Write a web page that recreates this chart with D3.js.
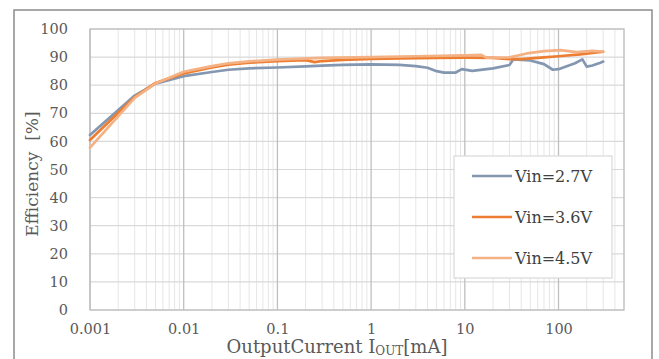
<!DOCTYPE html>
<html>
<head>
<meta charset="utf-8">
<script src="https://cdn.jsdelivr.net/npm/d3@7"></script>
<style>
  body { margin: 0; background: #fff; }
  svg text { font-family: "DejaVu Serif", "Liberation Serif", serif; }
</style>
</head>
<body>
<div id="chart"></div>
<script>
// data
const seriesNames = ["Vin=2.7V", "Vin=3.6V", "Vin=4.5V"];
const seriesColors = ["#8497b0", "#ed7d31", "#f4b183"];

const current27 = [0.001, 0.003, 0.005, 0.01, 0.02, 0.03, 0.05, 0.1, 0.2, 0.3, 0.5, 1, 2, 3, 4, 5, 6, 8, 9.3, 12, 20, 30, 33, 50, 70, 87, 100, 150, 180, 200, 230, 280, 300];
const eff27 = [62.3, 76.3, 80.5, 83.2, 84.7, 85.5, 86.0, 86.3, 86.7, 87.0, 87.2, 87.4, 87.2, 86.8, 86.2, 85.0, 84.5, 84.5, 85.7, 85.1, 86.0, 87.2, 89.2, 88.8, 87.5, 85.5, 85.7, 87.8, 89.2, 86.6, 87.0, 88.0, 88.4];

const current36 = [0.001, 0.003, 0.005, 0.01, 0.02, 0.03, 0.05, 0.1, 0.2, 0.25, 0.3, 0.5, 1, 2, 5, 10, 20, 30, 40, 70, 100, 170, 300];
const eff36 = [60.5, 75.8, 80.8, 84.2, 86.3, 87.3, 88.0, 88.6, 88.9, 88.2, 88.6, 89.0, 89.4, 89.5, 89.7, 89.8, 89.7, 89.3, 89.3, 89.9, 90.3, 91.0, 91.9];

const current45 = [0.001, 0.003, 0.005, 0.01, 0.02, 0.03, 0.05, 0.1, 0.3, 1, 3, 10, 15, 17, 30, 46, 70, 105, 157, 230, 300];
const eff45 = [57.8, 75.5, 80.6, 84.8, 86.8, 87.8, 88.5, 89.1, 89.7, 90.0, 90.3, 90.6, 90.8, 89.8, 89.9, 91.3, 92.1, 92.5, 91.8, 92.2, 92.0];

const xTicks = [0.001, 0.01, 0.1, 1, 10, 100];
const xTickLabels = ["0.001", "0.01", "0.1", "1", "10", "100"];
const yTicks = [0, 10, 20, 30, 40, 50, 60, 70, 80, 90, 100];

const width = 659, height = 359;
const margin = {top: 29, right: 35, bottom: 49, left: 90};
const innerW = width - margin.left - margin.right;
const innerH = height - margin.top - margin.bottom;

const svg = d3.select("#chart").append("svg")
  .attr("width", width)
  .attr("height", height);

// outer chart frame
svg.append("rect")
  .attr("x", 14).attr("y", 10)
  .attr("width", 638).attr("height", 370)
  .attr("fill", "none")
  .attr("stroke", "#8c8c8c")
  .attr("stroke-width", 1.5);

const g = svg.append("g")
  .attr("transform", "translate(" + margin.left + "," + margin.top + ")");

// SCALES
const x = d3.scaleLog().domain([0.001, 500]).range([0, innerW]);
const y = d3.scaleLinear().domain([0, 100]).range([innerH, 0]);

// minor grid
let minor = [];
xTicks.forEach(d => {
  for (let k = 2; k <= 9; k++) {
    if (d * k <= 500) minor.push(d * k);
  }
});
g.append("g").selectAll("line").data(minor).enter().append("line")
  .attr("x1", d => x(d)).attr("x2", d => x(d))
  .attr("y1", 0).attr("y2", innerH)
  .attr("stroke", "#e6e6e6").attr("stroke-width", 1);

// horizontal grid
g.append("g").selectAll("line").data(yTicks).enter().append("line")
  .attr("x1", 0).attr("x2", innerW)
  .attr("y1", d => y(d)).attr("y2", d => y(d))
  .attr("stroke", "#d9d9d9").attr("stroke-width", 1.2);

// major grid
g.append("g").selectAll("line").data(xTicks).enter().append("line")
  .attr("x1", d => x(d)).attr("x2", d => x(d))
  .attr("y1", 0).attr("y2", innerH)
  .attr("stroke", "#bfbfbf").attr("stroke-width", 1.3);

g.append("rect")
  .attr("width", innerW).attr("height", innerH)
  .attr("fill", "none").attr("stroke", "#bfbfbf").attr("stroke-width", 1.3);

// AXES (labels only, Excel style)
const xAxis = d3.axisBottom(x).tickValues(xTicks)
  .tickFormat((d, i) => xTickLabels[i]).tickSize(0).tickPadding(14);
const xg = g.append("g")
  .attr("transform", "translate(0," + innerH + ")")
  .call(xAxis);
xg.select(".domain").remove();
xg.selectAll("text").attr("fill", "#595959").style("font-size", "14.5px")
  .style("font-family", "DejaVu Serif");

const yAxis = d3.axisLeft(y).tickValues(yTicks).tickSize(0).tickPadding(22);
const yg = g.append("g").call(yAxis);
yg.select(".domain").remove();
yg.selectAll("text").attr("fill", "#595959").style("font-size", "14.5px")
  .style("font-family", "DejaVu Serif");

// LINES
const series = [
  {name: seriesNames[0], color: seriesColors[0], xs: current27, ys: eff27},
  {name: seriesNames[1], color: seriesColors[1], xs: current36, ys: eff36},
  {name: seriesNames[2], color: seriesColors[2], xs: current45, ys: eff45}
];

const line = d3.line()
  .x(d => x(d[0]))
  .y(d => y(d[1]));

series.forEach(s => {
  g.append("path")
    .datum(d3.zip(s.xs, s.ys))
    .attr("fill", "none")
    .attr("stroke", s.color)
    .attr("stroke-width", 2.7)
    .attr("stroke-linejoin", "round")
    .attr("stroke-linecap", "round")
    .attr("d", line);
});

// LEGEND
const legend = svg.append("g").attr("transform", "translate(454,156)");
legend.append("rect")
  .attr("width", 158).attr("height", 122)
  .attr("fill", "#fff").attr("stroke", "#d9d9d9").attr("stroke-width", 1.2);

const items = legend.selectAll(".item").data(series).enter().append("g")
  .attr("class", "item")
  .attr("transform", (d, i) => "translate(0," + (20 + i * 41) + ")");
items.append("line")
  .attr("x1", 18).attr("x2", 58)
  .attr("stroke", d => d.color).attr("stroke-width", 2.7);
items.append("text")
  .attr("x", 61).attr("dy", "0.36em")
  .attr("fill", "#404040")
  .style("font-size", "16px")
  .text(d => d.name);

// TITLES
svg.append("text")
  .attr("transform", "translate(38,174) rotate(-90)")
  .attr("text-anchor", "middle")
  .attr("fill", "#595959")
  .style("font-size", "17px")
  .style("white-space", "pre")
  .text("Efficiency  [%]");

const xt = svg.append("text")
  .attr("x", 337).attr("y", 353)
  .attr("text-anchor", "middle")
  .attr("fill", "#595959")
  .style("font-size", "18px");
xt.append("tspan").text("OutputCurrent I");
xt.append("tspan").attr("dy", 2).style("font-size", "12px").text("OUT");
xt.append("tspan").attr("dy", -2).text("[mA]");
</script>
</body>
</html>
